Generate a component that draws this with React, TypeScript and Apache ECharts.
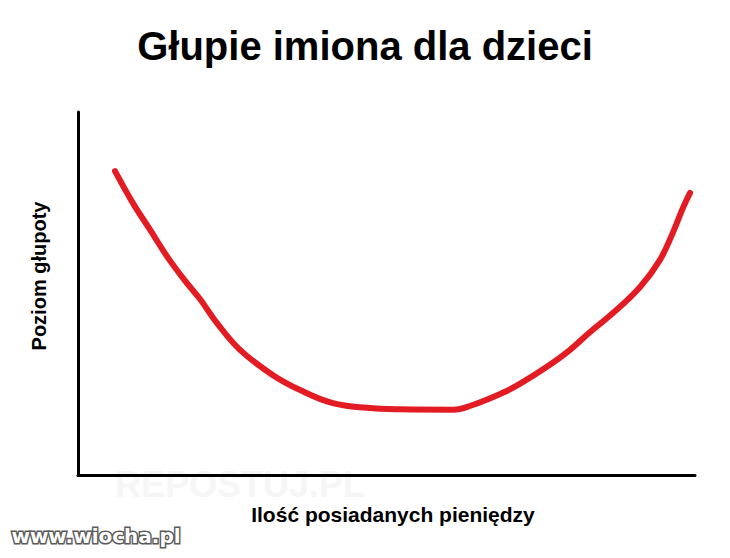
import { useEffect, useRef } from "react";
import * as echarts from "echarts";

// Money owned (x) vs. level of silliness (y), both on a 0-100 scale
const moneyLevels = [
  6.0, 8.9, 11.7, 14.4, 17.3, 19.8, 22.5, 26.3, 31.6, 36.0, 41.3, 46.8, 52.2,
  60.8, 63.5, 68.9, 71.6, 76.0, 79.7, 83.0, 86.7, 91.1, 94.3, 96.4, 98.1, 99.2,
];
const sillinessLevels = [
  83.7, 74.9, 67.5, 60.3, 53.6, 48.4, 41.9, 34.4, 27.5, 23.4, 19.8, 18.5, 18.1,
  18.0, 19.0, 22.7, 25.1, 29.8, 34.4, 39.4, 44.6, 51.8, 59.2, 66.7, 73.8, 77.7,
];

const titleText = "Głupie imiona dla dzieci";
const xAxisTitle = "Ilość posiadanych pieniędzy";
const yAxisTitle = "Poziom głupoty";

const FONT = "'Liberation Sans', Arial, Helvetica, sans-serif";

export default function App() {
  const chartRef = useRef<HTMLDivElement>(null);

  useEffect(() => {
    if (!chartRef.current) return;
    const chart = echarts.init(chartRef.current, undefined, { renderer: "svg" });

    chart.setOption({
      animation: false,
      backgroundColor: "#ffffff",
      title: {
        text: titleText,
        left: "center",
        top: 21,
        textStyle: {
          fontFamily: FONT,
          fontWeight: "bold",
          fontSize: 40,
          color: "#000000",
        },
      },
      grid: { left: 78, right: 35, top: 112, bottom: 83 },
      xAxis: {
        type: "value",
        min: 0,
        max: 100,
        axisLine: { show: true, lineStyle: { color: "#000", width: 3 } },
        axisTick: { show: false },
        axisLabel: { show: false },
        splitLine: { show: false },
      },
      yAxis: {
        type: "value",
        min: 0,
        max: 100,
        axisLine: { show: true, lineStyle: { color: "#000", width: 3 } },
        axisTick: { show: false },
        axisLabel: { show: false },
        splitLine: { show: false },
      },
      graphic: [
        {
          type: "text",
          x: 240,
          y: 484,
          z: 0,
          style: {
            text: "REPOSTUJ.PL",
            fontFamily: FONT,
            fontWeight: "bold",
            fontSize: 36,
            fill: "#f6f6f6",
            textAlign: "center",
            textVerticalAlign: "middle",
          },
        },
        {
          type: "text",
          x: 393,
          y: 514,
          style: {
            text: xAxisTitle,
            fontFamily: FONT,
            fontWeight: "bold",
            fontSize: 21,
            fill: "#000",
            textAlign: "center",
            textVerticalAlign: "middle",
          },
        },
        {
          type: "text",
          x: 39,
          y: 276,
          rotation: Math.PI / 2,
          style: {
            text: yAxisTitle,
            fontFamily: FONT,
            fontWeight: "bold",
            fontSize: 20,
            fill: "#000",
            textAlign: "center",
            textVerticalAlign: "middle",
          },
        },
        {
          type: "text",
          x: 96,
          y: 536,
          style: {
            text: "www.wiocha.pl",
            fontFamily: "'DejaVu Sans', sans-serif",
            fontWeight: "bold",
            fontSize: 20,
            fill: "#ffffff",
            stroke: "#5a5a5a",
            lineWidth: 3,
            textAlign: "center",
            textVerticalAlign: "middle",
          },
        },
      ],
      series: [
        {
          type: "line",
          smooth: 0.4,
          showSymbol: false,
          symbol: "none",
          lineStyle: { color: "#e31b23", width: 6, cap: "round", join: "round" },
          data: moneyLevels.map((x, i) => [x, sillinessLevels[i]]),
        },
      ],
    });

    return () => {
      chart.dispose();
    };
  }, []);

  return (
    <div
      ref={chartRef}
      style={{ position: "fixed", left: 0, top: 0, width: 730, height: 558 }}
    />
  );
}
